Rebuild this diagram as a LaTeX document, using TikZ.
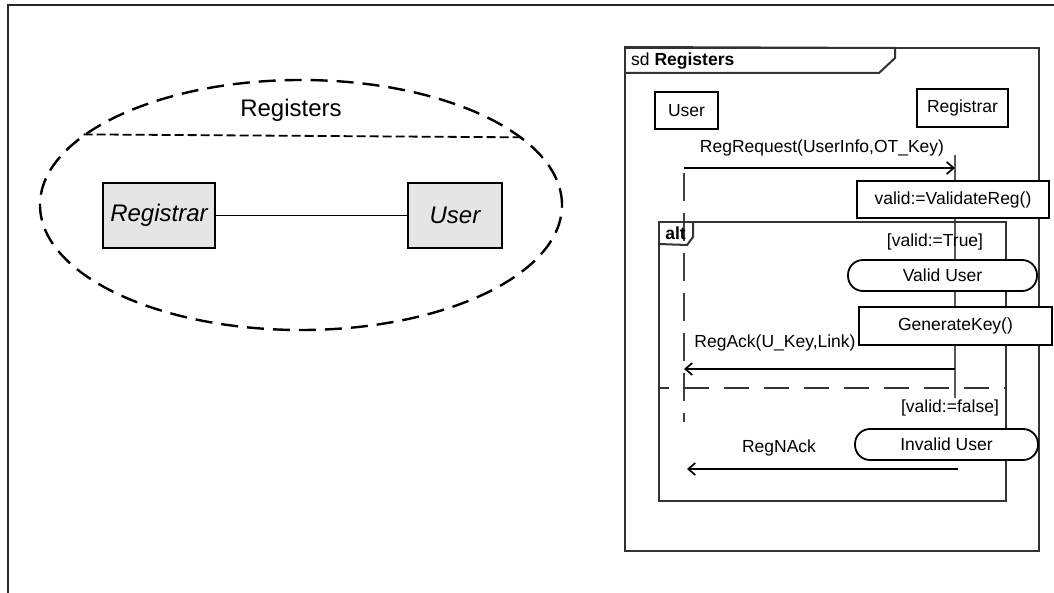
\documentclass[tikz,border=0pt]{standalone}
\usepackage{fontspec}
\setmainfont{Liberation Sans}
\usetikzlibrary{arrows.meta, shapes.geometric}
\newcommand{\seqfont}{\fontsize{17.5}{20}\selectfont}
\newcommand{\ucfont}{\fontsize{24}{28}\selectfont}
\tikzset{
    usecase/.style={draw, ellipse, line width=2.4pt, dash pattern=on 17pt off 9pt, minimum width=522pt, minimum height=250pt, inner sep=0},
    classbox/.style={draw, fill=black!10, line width=2pt, font=\ucfont\itshape, minimum height=65pt, inner sep=0},
    lifebox/.style={draw, line width=2pt, font=\seqfont, inner sep=0},
    actbox/.style={draw, fill=white, line width=1.8pt, font=\seqfont, inner sep=0},
    statebox/.style={draw, fill=white, rounded corners=15pt, line width=1.8pt, font=\seqfont, minimum height=31pt, inner sep=0},
    seqlabel/.style={font=\seqfont, inner sep=0},
    msg/.style={line width=1.7pt, -{Straight Barb[length=7pt, width=12pt]}},
    frameline/.style={draw, line width=2pt, black!80},
    lifeline/.style={line width=1.8pt, black!75},
    }

\begin{document}
\begin{tikzpicture}[x=1pt, y=-1pt]
    \useasboundingbox (0,0) rectangle (1054,593);
    % outer frame
    \draw[line width=2.6pt, black!85] (8,593) -- (8,5) -- (1054,5);

    % use case
    \node[usecase] (uc) at (301,205) {};
    \draw[line width=1.8pt, dash pattern=on 9pt off 4pt] (uc.162.4) -- (uc.17.6);
    \node[font=\ucfont] (uctitle) at (291,110) {Registers};
    \node[classbox, minimum width=112pt] (regcls) at (159,215.5) {Registrar};
    \node[classbox, minimum width=94pt] (usercls) at (455,215.5) {User};
    \draw[line width=1.6pt] (regcls) -- (usercls);

    % sequence diagram frame
    \node[frameline, minimum width=414pt, minimum height=503pt] (sd) at (832,299.5) {};
    \draw[frameline] (sd.north west) -- (895,48) -- (895,58) -- (879,73) -- (625,73);
    \node[seqlabel, anchor=west] (sdname) at (631,61) {sd \textbf{Registers}};

    % lifelines
    \node[lifebox, minimum width=63pt, minimum height=37pt] (user) at (686.5,110.5) {User};
    \node[lifebox, minimum width=91pt, minimum height=38pt] (registrar) at (962.5,108) {Registrar};
    \coordinate (uTop) at (684,173);
    \coordinate (uEnd) at (684,422);
    \coordinate (rTop) at (955,155);
    \coordinate (rEnd) at (955,398);
    \draw[lifeline, dash pattern=on 28pt off 12pt] (uTop) -- (uEnd);
    \draw[lifeline, black!65] (rTop) -- (rEnd);

    % alt fragment
    \node[frameline, minimum width=347pt, minimum height=279pt] (alt) at (832.5,361.5) {};
    \draw[frameline] (alt.north west) ++(0,23) -- (687,245) -- (693,237) -- (693,222);
    \node[seqlabel] (altname) at (675.5,233) {\textbf{alt}};
    \coordinate (sepL) at (659,388);
    \coordinate (sepR) at (1006,388);
    \draw[line width=1.8pt, black!80, dash pattern=on 25pt off 15pt, dash phase=-25pt] (sepL) -- (sepR);

    % messages
    \coordinate (u1) at (684,168);
    \coordinate (r1) at (955,168);
    \draw[msg] (u1) -- (r1);
    \node[seqlabel] (req) at (822,148) {RegRequest(UserInfo,OT\_Key)};

    \node[actbox, minimum width=192pt, minimum height=37pt] (validate) at (953,199.5) {valid:=ValidateReg()};
    \node[seqlabel] (guardT) at (935,242) {[valid:=True]};
    \node[statebox, minimum width=189pt] (validU) at (942.5,275.5) {Valid User};
    \node[actbox, minimum width=193pt, minimum height=38pt] (genkey) at (955.5,326) {GenerateKey()};

    \coordinate (r2) at (955,369);
    \coordinate (u2) at (684,369);
    \draw[msg] (r2) -- (u2);
    \node[seqlabel] (ack) at (775,343) {RegAck(U\_Key,Link)};

    \node[seqlabel] (guardF) at (950,408) {[valid:=false]};
    \node[statebox, minimum width=183pt] (invalidU) at (946.5,444.5) {Invalid User};

    \coordinate (r3) at (958,469);
    \coordinate (u3) at (687,469);
    \draw[msg] (r3) -- (u3);
    \node[seqlabel] (nack) at (779,448) {RegNAck};

\end{tikzpicture}
\end{document}
